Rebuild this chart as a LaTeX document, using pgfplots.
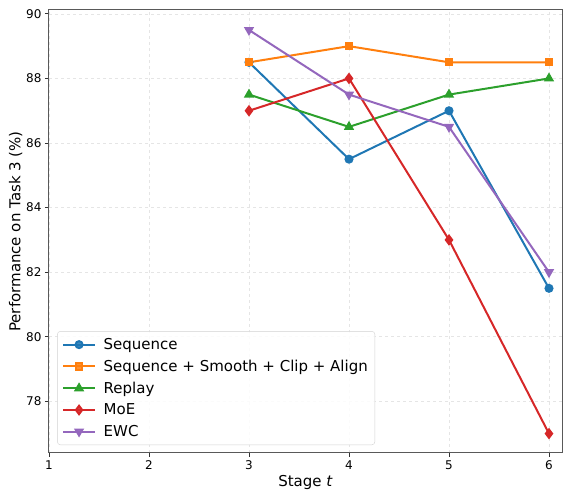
\documentclass[border=0pt]{standalone}
\usepackage{pgfplots}
\pgfplotsset{compat=1.18}
\usepackage{fontspec}
\setmainfont{DejaVu Sans}
\definecolor{tabblue}{HTML}{1F77B4}
\definecolor{taborange}{HTML}{FF7F0E}
\definecolor{tabgreen}{HTML}{2CA02C}
\definecolor{tabred}{HTML}{D62728}
\definecolor{tabpurple}{HTML}{9467BD}
\pgfplotsset{
    myline/.style={line width=2pt, mark size=3.5pt, mark options={solid}},
}
\begin{document}
\begin{tikzpicture}
\begin{axis}[
    width=513pt, height=443pt, scale only axis,
    xmin=1, xmax=6.13, ymin=76.4, ymax=90.12,
    xtick={1,2,3,4,5,6},
    ytick={78,80,82,84,86,88,90},
    tick align=outside, tick pos=left,
    major tick length=4pt,
    every tick/.style={black!80, line width=0.8pt},
    axis line style={black!65, line width=1pt},
    grid=major,
    grid style={dashed, gray!20, line width=0.6pt},
    tick label style={font=\fontsize{12}{14}\selectfont},
    /pgf/number format/assume math mode=true,
    xlabel={Stage \textit{t}},
    ylabel={Performance on Task 3 (\%)},
    label style={font=\fontsize{15}{17}\selectfont},
    ylabel style={yshift=-3pt},
    xlabel style={yshift=1pt},
    legend cell align=left,
    legend image code/.code={
        \draw[mark repeat=2, mark phase=2] plot coordinates {(0cm,0cm) (0.55cm,0cm) (1.1cm,0cm)};
    },
    legend style={at={(0.016,0.018)}, anchor=south west,
        font=\fontsize{15}{17}\selectfont,
        draw=gray!35, rounded corners=3pt, fill=white, fill opacity=0.85, text opacity=1,
        row sep=5pt, column sep=6pt, inner sep=5pt},
]
\addplot[myline, color=tabblue, mark=*] coordinates {
    (3,88.5) (4,85.5) (5,87.0) (6,81.5)
};
\addlegendentry{Sequence}
\addplot[myline, color=taborange, mark=square*, mark size=3.2pt] coordinates {
    (3,88.5) (4,89.0) (5,88.5) (6,88.5)
};
\addlegendentry{Sequence + Smooth + Clip + Align}
\addplot[myline, color=tabgreen, mark=triangle*, mark size=4pt] coordinates {
    (3,87.5) (4,86.5) (5,87.5) (6,88.0)
};
\addlegendentry{Replay}
\addplot[myline, color=tabred, mark=diamond*, mark size=4.2pt] coordinates {
    (3,87.0) (4,88.0) (5,83.0) (6,77.0)
};
\addlegendentry{MoE}
\addplot[myline, color=tabpurple, mark=triangle*, mark size=4pt, mark options={rotate=180}] coordinates {
    (3,89.5) (4,87.5) (5,86.5) (6,82.0)
};
\addlegendentry{EWC}
\end{axis}
% whitespace margins as in the reference
\path (current axis.south west) ++(-49pt,-41pt);
\path (current axis.north east) ++(1pt,10pt);
\end{tikzpicture}
\end{document}
